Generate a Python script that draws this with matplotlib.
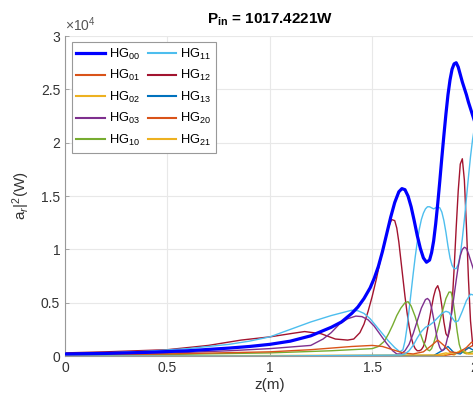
import matplotlib
matplotlib.use("Agg")
import matplotlib.pyplot as plt
import numpy as np
from matplotlib.ticker import FuncFormatter

plt.rcParams['font.family'] = ['Liberation Sans', 'DejaVu Sans']
plt.rcParams['mathtext.fontset'] = 'custom'
plt.rcParams['mathtext.rm'] = 'Liberation Sans'
plt.rcParams['mathtext.it'] = 'Liberation Sans:italic'
plt.rcParams['mathtext.bf'] = 'Liberation Sans:bold'

SCALE = 1e4

# ---- data (units of 1e4 W) ----
z_hg00 = [0, 0.2, 0.4, 0.6, 0.8, 0.9, 1.0, 1.1, 1.2, 1.3, 1.35, 1.40, 1.43, 1.46, 1.49, 1.51, 1.53, 1.55, 1.57,
          1.59, 1.61, 1.63, 1.645, 1.66, 1.675, 1.69, 1.705, 1.72, 1.735, 1.75, 1.765, 1.78, 1.79, 1.80, 1.81,
          1.82, 1.83, 1.84, 1.85, 1.86, 1.87, 1.88, 1.89, 1.90, 1.91, 1.92, 1.93, 1.94, 1.95, 1.96, 1.97, 1.98,
          1.99, 2.0]
p_hg00 = [0.02, 0.025, 0.035, 0.05, 0.075, 0.09, 0.11, 0.14, 0.19, 0.27, 0.32, 0.40, 0.46, 0.54, 0.64, 0.73,
          0.84, 0.98, 1.14, 1.30, 1.44, 1.54, 1.57, 1.56, 1.50, 1.40, 1.27, 1.13, 1.01, 0.92, 0.88, 0.90, 0.97,
          1.08, 1.24, 1.43, 1.64, 1.86, 2.07, 2.27, 2.45, 2.59, 2.69, 2.74, 2.75, 2.71, 2.64, 2.57, 2.51, 2.45,
          2.38, 2.32, 2.26, 2.20]

z_hg01 = [0, 0.5, 1.0, 1.2, 1.4, 1.5, 1.55, 1.6, 1.65, 1.7, 1.75, 1.79, 1.82, 1.85, 1.88, 1.92, 1.96, 1.985, 2.0]
p_hg01 = [0.01, 0.02, 0.04, 0.06, 0.09, 0.10, 0.09, 0.06, 0.03, 0.02, 0.04, 0.10, 0.15, 0.10, 0.04, 0.03, 0.08,
          0.13, 0.12]

z_hg02 = [0, 1.0, 1.6, 1.85, 1.88, 1.91, 1.94, 1.97, 2.0]
p_hg02 = [0.0, 0.005, 0.01, 0.01, 0.03, 0.03, 0.06, 0.02, 0.02]

z_hg03 = [0, 0.4, 0.6, 0.8, 1.0, 1.1, 1.2, 1.26, 1.30, 1.34, 1.38, 1.42, 1.45, 1.48, 1.51, 1.54, 1.57, 1.60,
          1.62, 1.64, 1.66, 1.68, 1.70, 1.72, 1.74, 1.76, 1.77, 1.78, 1.79, 1.80, 1.81, 1.82, 1.83, 1.84, 1.85,
          1.86, 1.87, 1.88, 1.89, 1.90, 1.91, 1.92, 1.93, 1.94, 1.95, 1.96, 1.97, 1.98, 1.99, 2.0]
p_hg03 = [0.01, 0.02, 0.035, 0.05, 0.07, 0.085, 0.10, 0.16, 0.22, 0.30, 0.35, 0.375, 0.37, 0.34, 0.28, 0.20,
          0.12, 0.05, 0.02, 0.02, 0.05, 0.11, 0.21, 0.33, 0.45, 0.53, 0.54, 0.52, 0.45, 0.35, 0.24, 0.14, 0.08,
          0.05, 0.06, 0.11, 0.19, 0.30, 0.43, 0.57, 0.71, 0.84, 0.94, 1.00, 1.02, 1.01, 0.96, 0.90, 0.84, 0.78]

z_hg10 = [0, 0.5, 1.0, 1.3, 1.50, 1.53, 1.56, 1.58, 1.60, 1.62, 1.64, 1.66, 1.675, 1.69, 1.71, 1.73, 1.75, 1.77,
          1.78, 1.79, 1.80, 1.82, 1.84, 1.86, 1.875, 1.885, 1.895, 1.905, 1.915, 1.925, 1.935, 1.95, 1.97, 2.0]
p_hg10 = [0.01, 0.015, 0.03, 0.05, 0.07, 0.09, 0.14, 0.21, 0.29, 0.38, 0.45, 0.50, 0.51, 0.47, 0.37, 0.24, 0.13,
          0.06, 0.05, 0.07, 0.12, 0.25, 0.40, 0.54, 0.60, 0.60, 0.52, 0.38, 0.23, 0.11, 0.05, 0.03, 0.03, 0.05]

z_hg11 = [0, 0.2, 0.4, 0.6, 0.8, 0.9, 1.0, 1.1, 1.2, 1.3, 1.40, 1.43, 1.46, 1.49, 1.52, 1.55, 1.58, 1.61, 1.635,
          1.65, 1.66, 1.67, 1.68, 1.69, 1.70, 1.71, 1.72, 1.73, 1.74, 1.75, 1.76, 1.77, 1.78, 1.79, 1.80, 1.81,
          1.82, 1.83, 1.84, 1.85, 1.86, 1.87, 1.88, 1.89, 1.90, 1.91, 1.92, 1.93, 1.94, 1.95, 1.96, 1.97, 1.98,
          1.99, 2.0]
p_hg11 = [0.02, 0.03, 0.045, 0.07, 0.11, 0.14, 0.18, 0.25, 0.32, 0.38, 0.43, 0.425, 0.40, 0.35, 0.28, 0.21,
          0.14, 0.08, 0.04, 0.06, 0.14, 0.27, 0.43, 0.60, 0.77, 0.93, 1.07, 1.19, 1.28, 1.34, 1.38, 1.40, 1.40,
          1.39, 1.38, 1.39, 1.40, 1.39, 1.35, 1.27, 1.16, 1.03, 0.92, 0.85, 0.82, 0.82, 0.86, 0.95, 1.10, 1.28,
          1.48, 1.68, 1.87, 2.03, 2.15]

z_hg12 = [0, 0.2, 0.5, 0.7, 0.86, 1.0, 1.1, 1.17, 1.25, 1.32, 1.38, 1.41, 1.44, 1.46, 1.48, 1.50, 1.52, 1.54,
          1.56, 1.58, 1.595, 1.61, 1.62, 1.63, 1.64, 1.65, 1.66, 1.67, 1.68, 1.69, 1.70, 1.71, 1.72, 1.73, 1.74,
          1.75, 1.76, 1.77, 1.78, 1.79, 1.80, 1.81, 1.82, 1.83, 1.84, 1.85, 1.86, 1.87, 1.88, 1.89, 1.90, 1.91,
          1.92, 1.93, 1.94, 1.95, 1.96, 1.97, 1.98, 1.99, 2.0]
p_hg12 = [0.03, 0.04, 0.06, 0.10, 0.15, 0.18, 0.21, 0.23, 0.21, 0.16, 0.15, 0.16, 0.22, 0.30, 0.42, 0.56, 0.72,
          0.90, 1.07, 1.21, 1.28, 1.27, 1.20, 1.07, 0.90, 0.73, 0.56, 0.41, 0.28, 0.18, 0.11, 0.07, 0.05, 0.05,
          0.06, 0.09, 0.15, 0.25, 0.35, 0.46, 0.56, 0.63, 0.66, 0.60, 0.47, 0.32, 0.21, 0.18, 0.26, 0.48, 0.82,
          1.20, 1.55, 1.80, 1.85, 1.65, 1.22, 0.72, 0.33, 0.12, 0.05]

z_hg13 = [0, 1.0, 1.8, 1.84, 1.87, 1.9, 1.93, 1.97, 2.0]
p_hg13 = [0.0, 0.0, 0.005, 0.05, 0.09, 0.03, 0.02, 0.08, 0.05]

z_hg20 = [0, 1.0, 1.85, 1.9, 1.95, 1.99, 2.0]
p_hg20 = [0.0, 0.0, 0.005, 0.02, 0.05, 0.10, 0.09]

z_hg21 = [0, 1.0, 1.8, 1.86, 1.9, 1.93, 1.96, 2.0]
p_hg21 = [0.0, 0.0, 0.005, 0.03, 0.01, 0.05, 0.02, 0.03]

z_extra = [0, 1.0, 1.64, 1.66, 1.68, 1.70, 1.72, 1.74, 1.76, 1.78, 1.80, 1.82, 1.84, 1.86, 1.875, 1.89, 1.905,
           1.92, 1.94, 1.96, 1.98, 2.0]
p_extra = [0.0, 0.0, 0.01, 0.02, 0.05, 0.10, 0.17, 0.23, 0.27, 0.29, 0.32, 0.36, 0.40, 0.42, 0.41, 0.36, 0.32,
           0.33, 0.42, 0.52, 0.58, 0.57]

labels = ['HG$_{00}$', 'HG$_{01}$', 'HG$_{02}$', 'HG$_{03}$', 'HG$_{10}$',
          'HG$_{11}$', 'HG$_{12}$', 'HG$_{13}$', 'HG$_{20}$', 'HG$_{21}$']
title_text = r'P$_{\mathbf{in}}$ = 1017.4221W'
x_ticks = [0, 0.5, 1, 1.5, 2]
y_ticks = [0, 0.5, 1, 1.5, 2, 2.5, 3]

series = [(z_hg00, p_hg00), (z_hg01, p_hg01), (z_hg02, p_hg02), (z_hg03, p_hg03), (z_hg10, p_hg10),
          (z_hg11, p_hg11), (z_hg12, p_hg12), (z_hg13, p_hg13), (z_hg20, p_hg20), (z_hg21, p_hg21)]
colors = ['#0000FF', '#D95319', '#EDB120', '#7E2F8E', '#77AC30',
          '#4DBEEE', '#A2142F', '#0072BD', '#D95319', '#EDB120']

fig = plt.figure(figsize=(4.73, 4.01), dpi=100)
ax = fig.add_axes([0.1374, 0.112, 0.866, 0.798])

for i in range(len(series) - 1, -1, -1):
    zz, pp = series[i]
    lw = 2.3 if i == 0 else 1.0
    ax.plot(zz, np.array(pp) * SCALE, color=colors[i], lw=lw, label=labels[i], zorder=3 if i == 0 else 2,
            solid_joinstyle='round')
ax.plot(z_extra, np.array(p_extra) * SCALE, color='#4DBEEE', lw=1.0, label='_nolegend_', zorder=2)

ax.set_xlim(0, 2.0)
ax.set_ylim(0, 3 * SCALE)
ax.set_xticks(x_ticks)
ax.set_xticklabels(['%g' % v for v in x_ticks])
ax.set_yticks([v * SCALE for v in y_ticks])
ax.yaxis.set_major_formatter(FuncFormatter(lambda v, p: '%g' % (v / SCALE)))
ax.text(0.0, 1.008, r'$\times$10$^{4}$', transform=ax.transAxes, ha='left', va='bottom', fontsize=10,
        color='#555555')

ax.grid(True, color='#e8e8e8', lw=0.8, zorder=0)
ax.set_axisbelow(True)
for s in ['top', 'right']:
    ax.spines[s].set_visible(False)
for s in ['left', 'bottom']:
    ax.spines[s].set_color('#999999')
    ax.spines[s].set_linewidth(0.8)
ax.tick_params(direction='in', length=3, width=0.6, colors='#999999', labelcolor='#333333', labelsize=10)

ax.set_title(title_text, fontsize=11, fontweight='bold', pad=9)
ax.set_xlabel('z(m)', fontsize=11, color='#333333', labelpad=2)
ax.set_ylabel('a$_r$|$^2$(W)', fontsize=11, color='#333333', labelpad=6)

handles, labs = ax.get_legend_handles_labels()
order = {l: k for k, l in enumerate(labels)}
pairs = sorted(zip(handles, labs), key=lambda t: order[t[1]])
handles = [p[0] for p in pairs]
labs = [p[1] for p in pairs]
leg = ax.legend(handles, labs, ncol=2, loc='upper left', bbox_to_anchor=(0.017, 0.981), borderaxespad=0,
                fontsize=9.3, handlelength=2.2, handletextpad=0.3, columnspacing=0.6, labelspacing=0.5,
                fancybox=False, framealpha=1, edgecolor='#999999', borderpad=0.35)
leg.get_frame().set_linewidth(0.8)
for h in leg.get_lines():
    h.set_linewidth(1.5)
leg.get_lines()[0].set_linewidth(2.3)

fig.savefig('out.png', dpi=100)
